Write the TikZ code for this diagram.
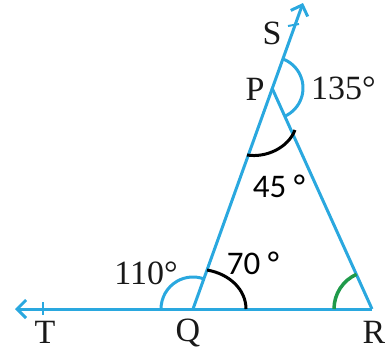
\documentclass[tikz,border=0pt]{standalone}
\usepackage{fontspec}
\setmainfont{Liberation Serif}
\newfontfamily\labsans{Carlito}
\usetikzlibrary{arrows.meta,calc}
\definecolor{lineblue}{HTML}{2AA8DF}
\definecolor{arcgreen}{HTML}{1F9A4A}
\tikzset{
  seg/.style={draw=lineblue,line width=3pt},
  bluearc/.style={draw=lineblue,line width=3pt},
  blackarc/.style={draw=black,line width=3pt},
  greenarc/.style={draw=arcgreen,line width=3.5pt},
  serlab/.style={font=\fontsize{34}{40}\selectfont,inner sep=0pt,text=black!90},
  sanlab/.style={font=\labsans\fontsize{33}{40}\selectfont,inner sep=0pt,text=black},
  tip/.style={-{Straight Barb[length=9pt,width=18pt,line width=3pt]}}
}
\begin{document}
\begin{tikzpicture}[x=1pt,y=-1pt]
\useasboundingbox (0,0) rectangle (385,359);
\coordinate (Q) at (193,309);
\coordinate (R) at (372,309);
\coordinate (P) at (272,88);
\coordinate (S) at (303,3);
\coordinate (T) at (15,309);
% lines
\draw[seg] (Q) -- (R);
\draw[seg] (R) -- (P);
\draw[seg,tip] (Q) -- (S);
\draw[seg,tip] (R) -- (T);
% small ticks near arrow tips
\draw[seg,line width=2pt] (43,302) -- (43,315);
\draw[seg,line width=2pt] (288,26) -- (299,24);
% angle arcs (y axis points down: angles are mirrored)
\draw[bluearc] ($(P)+(-70:31)$) arc[start angle=-70,end angle=65,radius=31];
\draw[bluearc] ($(Q)+(180:32)$) arc[start angle=180,end angle=290,radius=32];
\draw[blackarc] (247,155) .. controls (266,158) and (288,148) .. (295,130);
\draw[blackarc] (207,270) .. controls (230,274) and (246,290) .. (246,309);
\draw[greenarc] ($(R)+(180:38)$) arc[start angle=180,end angle=246,radius=38];
% labels
\node[serlab] (lS) at (272,33) {S};
\node[serlab] (lP) at (255,89) {P};
\node[serlab,anchor=west] (l135) at (311,88) {135°};
\node[sanlab] (l45) at (279,186) {45 °};
\node[sanlab] (l70) at (253,263) {70 °};
\node[serlab] (l110) at (146,273) {110°};
\node[serlab] (lT) at (45,332) {T};
\node[serlab] (lQ) at (188,333) {Q};
\node[serlab] (lR) at (374,332) {R};
\end{tikzpicture}
\end{document}
